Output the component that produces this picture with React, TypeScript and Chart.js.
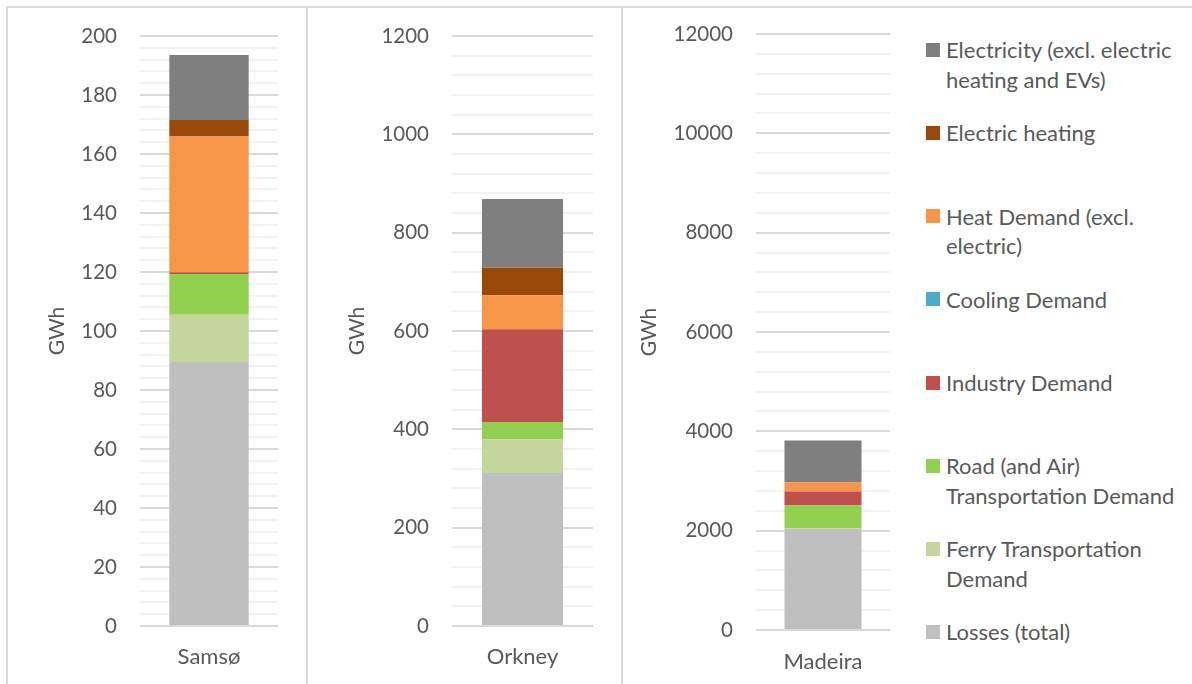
import React, { useEffect, useRef } from "react";
import { Chart, registerables } from "chart.js";
Chart.register(...registerables);

// ---- Data ----
const categories = ["Samsø", "Orkney", "Madeira"];
const losses = [89.5, 311, 2040];
const ferry = [16, 69, 12];
const road = [13.8, 34.7, 457];
const industry = [0.6, 189, 281];
const cooling = [0, 0, 0];
const heat = [46, 69, 182];
const electricHeating = [5.6, 56, 0];
const electricity = [22.1, 140, 845];

const axisMax = [200, 1200, 12000];
const majorStep = [20, 200, 2000];
const minorStep = [4, 40, 400];
const axisTitle = "GWh";

// series stacked bottom -> top
const series = [
  { name: ["Losses (total)"], data: losses, color: "#bfbfbf" },
  { name: ["Ferry Transportation", "Demand"], data: ferry, color: "#c3d69b" },
  { name: ["Road (and Air)", "Transportation Demand"], data: road, color: "#92d050" },
  { name: ["Industry Demand"], data: industry, color: "#c0504d" },
  { name: ["Cooling Demand"], data: cooling, color: "#4bacc6" },
  { name: ["Heat Demand (excl.", "electric)"], data: heat, color: "#f79646" },
  { name: ["Electric heating"], data: electricHeating, color: "#984807" },
  { name: ["Electricity (excl. electric", "heating and EVs)"], data: electricity, color: "#7f7f7f" },
];

const FONT = "Lato, 'Open Sans', sans-serif";
const TEXT = "#595959";

// ---- Layout of the three panels (page pixels) ----
const panels = [
  { left: 8, width: 298, yWidth: 132, padRight: 28, padTop: 28, xHeight: 57, titlePad: 37, xPad: 18 },
  { left: 309, width: 312, yWidth: 143, padRight: 28, padTop: 28, xHeight: 57, titlePad: 36, xPad: 18 },
  { left: 624, width: 280, yWidth: 132, padRight: 14, padTop: 26, xHeight: 53, titlePad: 13, xPad: 19 },
];
const CANVAS_TOP = 8;
const CANVAS_H = 675;

function Panel({ idx }: { idx: number }) {
  const ref = useRef<HTMLCanvasElement | null>(null);
  const p = panels[idx];
  useEffect(() => {
    if (!ref.current) return;
    const major = majorStep[idx];
    const chart = new Chart(ref.current, {
      type: "bar",
      data: {
        labels: [categories[idx]],
        datasets: series.map((s) => ({
          label: s.name.join(" "),
          data: [s.data[idx]],
          backgroundColor: s.color,
          borderWidth: 0,
          categoryPercentage: 1,
          barPercentage: 0.575,
        })),
      },
      options: {
        animation: false,
        responsive: false,
        maintainAspectRatio: false,
        devicePixelRatio: 1,
        layout: { padding: { left: 0, right: p.padRight, top: p.padTop, bottom: 0 } },
        plugins: { legend: { display: false }, tooltip: { enabled: false } },
        scales: {
          x: {
            stacked: true,
            grid: { display: false, drawTicks: false },
            border: { display: false },
            ticks: { color: TEXT, font: { family: FONT, size: 22 }, padding: p.xPad },
            afterFit: (scale: any) => {
              scale.height = p.xHeight;
            },
          },
          y: {
            stacked: true,
            min: 0,
            max: axisMax[idx],
            border: { display: false },
            grid: {
              drawTicks: true,
              tickLength: 18,
              tickColor: "rgba(0,0,0,0)",
              color: (c: any) => (c.tick && c.tick.value % major === 0 ? "#d9d9d9" : "#f2f2f2"),
              lineWidth: 2,
            },
            ticks: {
              stepSize: minorStep[idx],
              autoSkip: false,
              padding: 5,
              color: TEXT,
              font: { family: FONT, size: 20.5 },
              callback: (v: any) => (Number(v) % major === 0 ? String(v) : ""),
            },
            title: {
              display: true,
              text: axisTitle,
              color: TEXT,
              font: { family: FONT, size: 21 },
              padding: { top: p.titlePad, bottom: 0 },
            },
            afterFit: (scale: any) => {
              scale.width = p.yWidth;
            },
          },
        },
      },
    } as any);
    return () => chart.destroy();
  }, [idx]);
  return (
    <canvas
      ref={ref}
      width={p.width}
      height={CANVAS_H}
      style={{ position: "absolute", left: p.left, top: CANVAS_TOP, width: p.width, height: CANVAS_H }}
    />
  );
}

function Legend() {
  const items = [...series].reverse();
  return (
    <>
      {items.map((s, i) => {
        const center = 50 + i * 83.15;
        return (
          <div
            key={i}
            style={{
              position: "absolute",
              left: 926,
              top: center - 14.75,
              fontFamily: FONT,
              fontSize: 22,
              lineHeight: "29.5px",
              color: TEXT,
              whiteSpace: "nowrap",
            }}
          >
            <div
              style={{
                position: "absolute",
                left: 0,
                top: 7.75,
                width: 14,
                height: 14,
                background: s.color,
              }}
            />
            <div style={{ marginLeft: 20 }}>
              {s.name.map((line, j) => (
                <div key={j}>{line}</div>
              ))}
            </div>
          </div>
        );
      })}
    </>
  );
}

export default function App() {
  const line = "#d9d9d9";
  return (
    <div style={{ position: "absolute", left: 0, top: 0, width: 1192, height: 684, background: "#fff", overflow: "hidden" }}>
      {/* frame */}
      <div style={{ position: "absolute", left: 6, top: 6, width: 1186, height: 2, background: line }} />
      <div style={{ position: "absolute", left: 6, top: 6, width: 2, height: 678, background: line }} />
      <div style={{ position: "absolute", left: 306, top: 6, width: 2, height: 678, background: line }} />
      <div style={{ position: "absolute", left: 621, top: 6, width: 2, height: 678, background: line }} />
      {panels.map((_, i) => (
        <Panel key={i} idx={i} />
      ))}
      <Legend />
    </div>
  );
}
